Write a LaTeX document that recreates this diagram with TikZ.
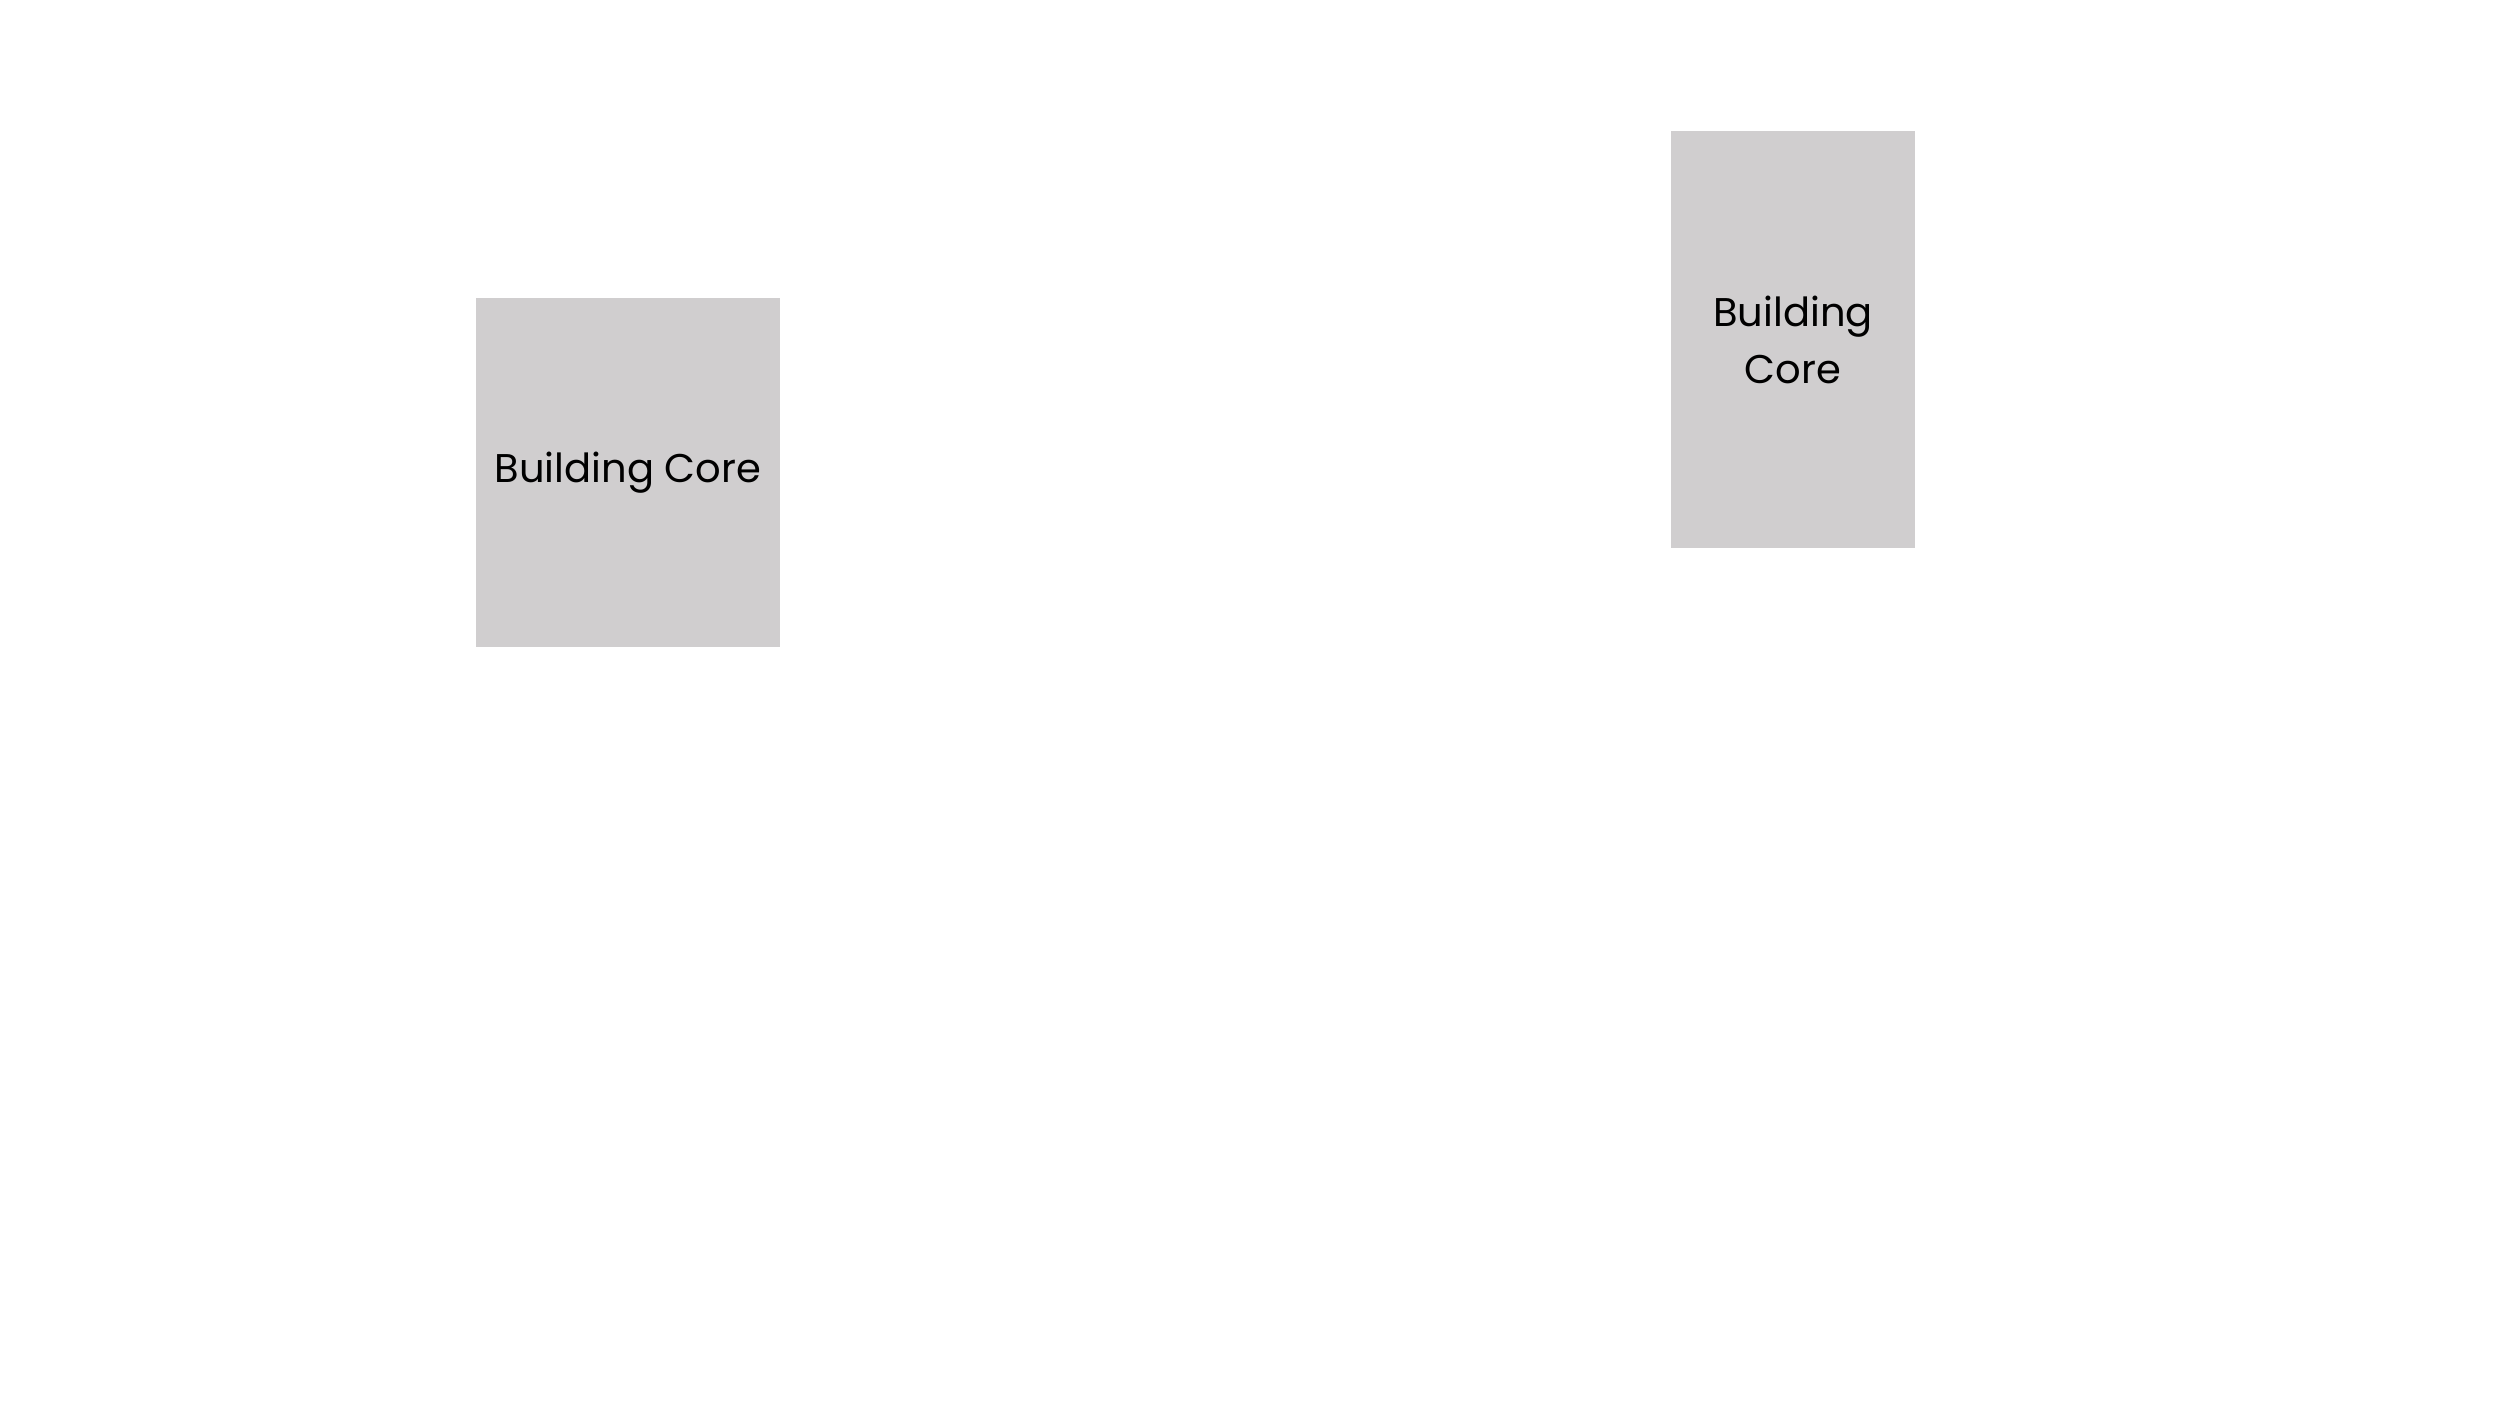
\documentclass[tikz,border=0pt]{standalone}
\usepackage{fontspec}
\setmainfont{Poppins}
\definecolor{coregray}{RGB}{208,206,207}
\tikzstyle{core}=[rectangle,fill=coregray,inner sep=0pt,align=center,font=\fontsize{11.4}{16.2}\selectfont]

\begin{document}
\begin{tikzpicture}
		%Canvas
		\useasboundingbox (0,0) rectangle (25,14.06);
		%Cores
		\node[core,minimum width=3.04cm,minimum height=3.49cm] (leftcore) at (6.28,9.335) {Building Core};
		\node[core,minimum width=2.44cm,minimum height=4.17cm] (rightcore) at (17.93,10.665) {Building\\Core};
\end{tikzpicture}
\end{document}
